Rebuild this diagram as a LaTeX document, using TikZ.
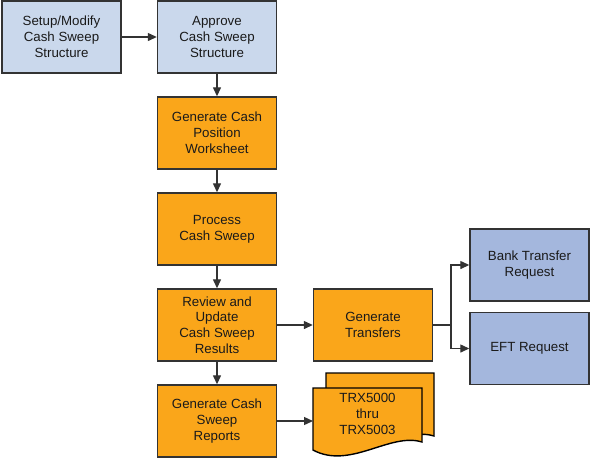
\documentclass[tikz,border=0pt]{standalone}
\usepackage{fontspec}
\setmainfont{Liberation Sans}
\usetikzlibrary{arrows.meta}
\definecolor{lblue}{HTML}{CAD8EC}
\definecolor{mblue}{HTML}{A4B7DD}
\definecolor{orng}{HTML}{FAA61A}
\definecolor{edge}{HTML}{333333}
\definecolor{txt}{HTML}{1A1A1A}
\begin{document}
\begin{tikzpicture}[x=1pt,y=-1pt,
  box/.style={draw=edge,line width=1.4pt,minimum width=119pt,minimum height=72pt,
    align=center,inner sep=0pt,text=txt,
    font=\fontsize{13.3}{15.8}\selectfont},
  topbox/.style={box,fill=lblue},
  obox/.style={box,fill=orng},
  rbox/.style={box,fill=mblue},
  conn/.style={draw=edge,line width=1.3pt,-{Triangle[length=9pt,width=8pt]}},
  docshape/.style={draw=black,line width=1.4pt,fill=orng}]
\useasboundingbox (0,0) rectangle (591,459);
\node[topbox] (setup) at (61.5,37) {Setup/Modify\\Cash Sweep\\Structure};
\node[topbox] (approve) at (217,37) {Approve\\Cash Sweep\\Structure};
\node[obox] (gen) at (217,133) {Generate Cash\\Position\\Worksheet};
\node[obox] (proc) at (217,229) {Process\\Cash Sweep};
\node[obox] (review) at (217,325) {Review and\\Update\\Cash Sweep\\Results};
\node[obox] (reports) at (217,421) {Generate Cash\\Sweep\\Reports};
\node[obox] (transfers) at (373,325) {Generate\\Transfers};
\node[rbox] (bank) at (529.5,265) {Bank Transfer\\Request};
\node[rbox] (eft) at (529.5,348.5) {EFT Request};
% documents
\draw[docshape] (326,373) -- (434,373) -- (434,436)
  .. controls (402,426) and (362,464) .. (326,444) -- cycle;
\draw[docshape] (313,388) -- (422,388) -- (422,442)
  .. controls (390,432) and (350,470) .. (313,450) -- cycle;
\node[align=center,text=txt,font=\fontsize{13.3}{15.8}\selectfont] (doc) at (367.5,414) {TRX5000\\thru\\TRX5003};
\coordinate (docin) at (313,421);
\coordinate (branch) at (451,325);
% connectors
\draw[conn] (setup) -- (approve);
\draw[conn] (approve) -- (gen);
\draw[conn] (gen) -- (proc);
\draw[conn] (proc) -- (review);
\draw[conn] (review) -- (reports);
\draw[conn] (review) -- (transfers);
\draw[conn] (reports.east) -- (docin);
\draw[draw=edge,line width=1.3pt] (transfers.east) -- (branch);
\draw[conn] (branch) |- (bank.west);
\draw[conn] (branch) |- (eft.west);
\end{tikzpicture}
\end{document}
